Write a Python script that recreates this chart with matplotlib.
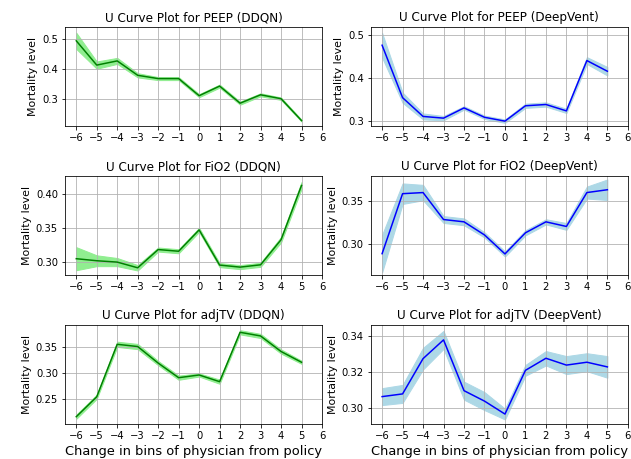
import numpy as np
import matplotlib
matplotlib.use("Agg")
import matplotlib.pyplot as plt

# bins of (physician - policy)
bins = list(range(-6, 6))
ticks = list(range(-6, 7))

# mortality means and half-widths of the shaded band
peep_ddqn = [0.493, 0.412, 0.426, 0.378, 0.367, 0.367, 0.310, 0.342, 0.285, 0.313, 0.300, 0.227]
peep_ddqn_err = [0.027, 0.012, 0.010, 0.007, 0.005, 0.005, 0.005, 0.005, 0.005, 0.005, 0.004, 0.003]
peep_dv = [0.477, 0.354, 0.310, 0.306, 0.330, 0.308, 0.299, 0.335, 0.338, 0.323, 0.441, 0.416]
peep_dv_err = [0.029, 0.012, 0.007, 0.005, 0.004, 0.004, 0.004, 0.005, 0.005, 0.005, 0.008, 0.010]

fio2_ddqn = [0.305, 0.302, 0.300, 0.2916, 0.3185, 0.316, 0.3475, 0.2956, 0.2926, 0.296, 0.333, 0.413]
fio2_ddqn_err = [0.017, 0.008, 0.006, 0.004, 0.003, 0.003, 0.003, 0.003, 0.003, 0.003, 0.004, 0.005]
fio2_dv = [0.2886, 0.3587, 0.360, 0.3285, 0.3258, 0.3105, 0.2883, 0.313, 0.3258, 0.3204, 0.360, 0.3633]
fio2_dv_err = [0.022, 0.012, 0.009, 0.004, 0.004, 0.003, 0.003, 0.003, 0.003, 0.004, 0.007, 0.012]

tv_ddqn = [0.2162, 0.2544, 0.355, 0.3507, 0.319, 0.291, 0.2962, 0.2834, 0.378, 0.371, 0.3412, 0.3206]
tv_ddqn_err = [0.004, 0.004, 0.005, 0.005, 0.004, 0.004, 0.003, 0.004, 0.004, 0.004, 0.004, 0.003]
tv_dv = [0.3065, 0.308, 0.3276, 0.338, 0.3098, 0.304, 0.2968, 0.3211, 0.3278, 0.324, 0.3256, 0.323]
tv_dv_err = [0.0047, 0.005, 0.006, 0.005, 0.005, 0.005, 0.003, 0.003, 0.004, 0.005, 0.005, 0.006]

panels = [
    ("PEEP (DDQN)", peep_ddqn, peep_ddqn_err, "green", "lightgreen", (0.209, 0.538)),
    ("PEEP (DeepVent)", peep_dv, peep_dv_err, "blue", "lightblue", (0.2876, 0.519)),
    ("FiO2 (DDQN)", fio2_ddqn, fio2_ddqn_err, "green", "lightgreen", (0.281, 0.4265)),
    ("FiO2 (DeepVent)", fio2_dv, fio2_dv_err, "blue", "lightblue", (0.2637, 0.379)),
    ("adjTV (DDQN)", tv_ddqn, tv_ddqn_err, "green", "lightgreen", (0.2023, 0.3914)),
    ("adjTV (DeepVent)", tv_dv, tv_dv_err, "blue", "lightblue", (0.2913, 0.3461)),
]

fig, axes = plt.subplots(3, 2, figsize=(631 / 72, 459 / 72), dpi=72)
fig.subplots_adjust(left=0.103, right=0.995, top=0.9405, bottom=0.0763,
                    wspace=0.19, hspace=0.51)

for ax, (name, m, e, lc, fc, yl) in zip(axes.flat, panels):
    m = np.array(m)
    e = np.array(e)
    ax.fill_between(bins, m - e, m + e, color=fc)
    ax.plot(bins, m, color=lc)
    ax.set_title("U Curve Plot for " + name)
    ax.set_ylabel("Mortality level", fontsize=11)
    ax.set_xticks(ticks)
    ax.set_xlim(-6.55, 6)
    ax.set_ylim(*yl)
    ax.grid(True)

for ax in axes[2]:
    ax.set_xlabel("Change in bins of physician from policy", fontsize=13)

fig.savefig("out.png", dpi=72)
